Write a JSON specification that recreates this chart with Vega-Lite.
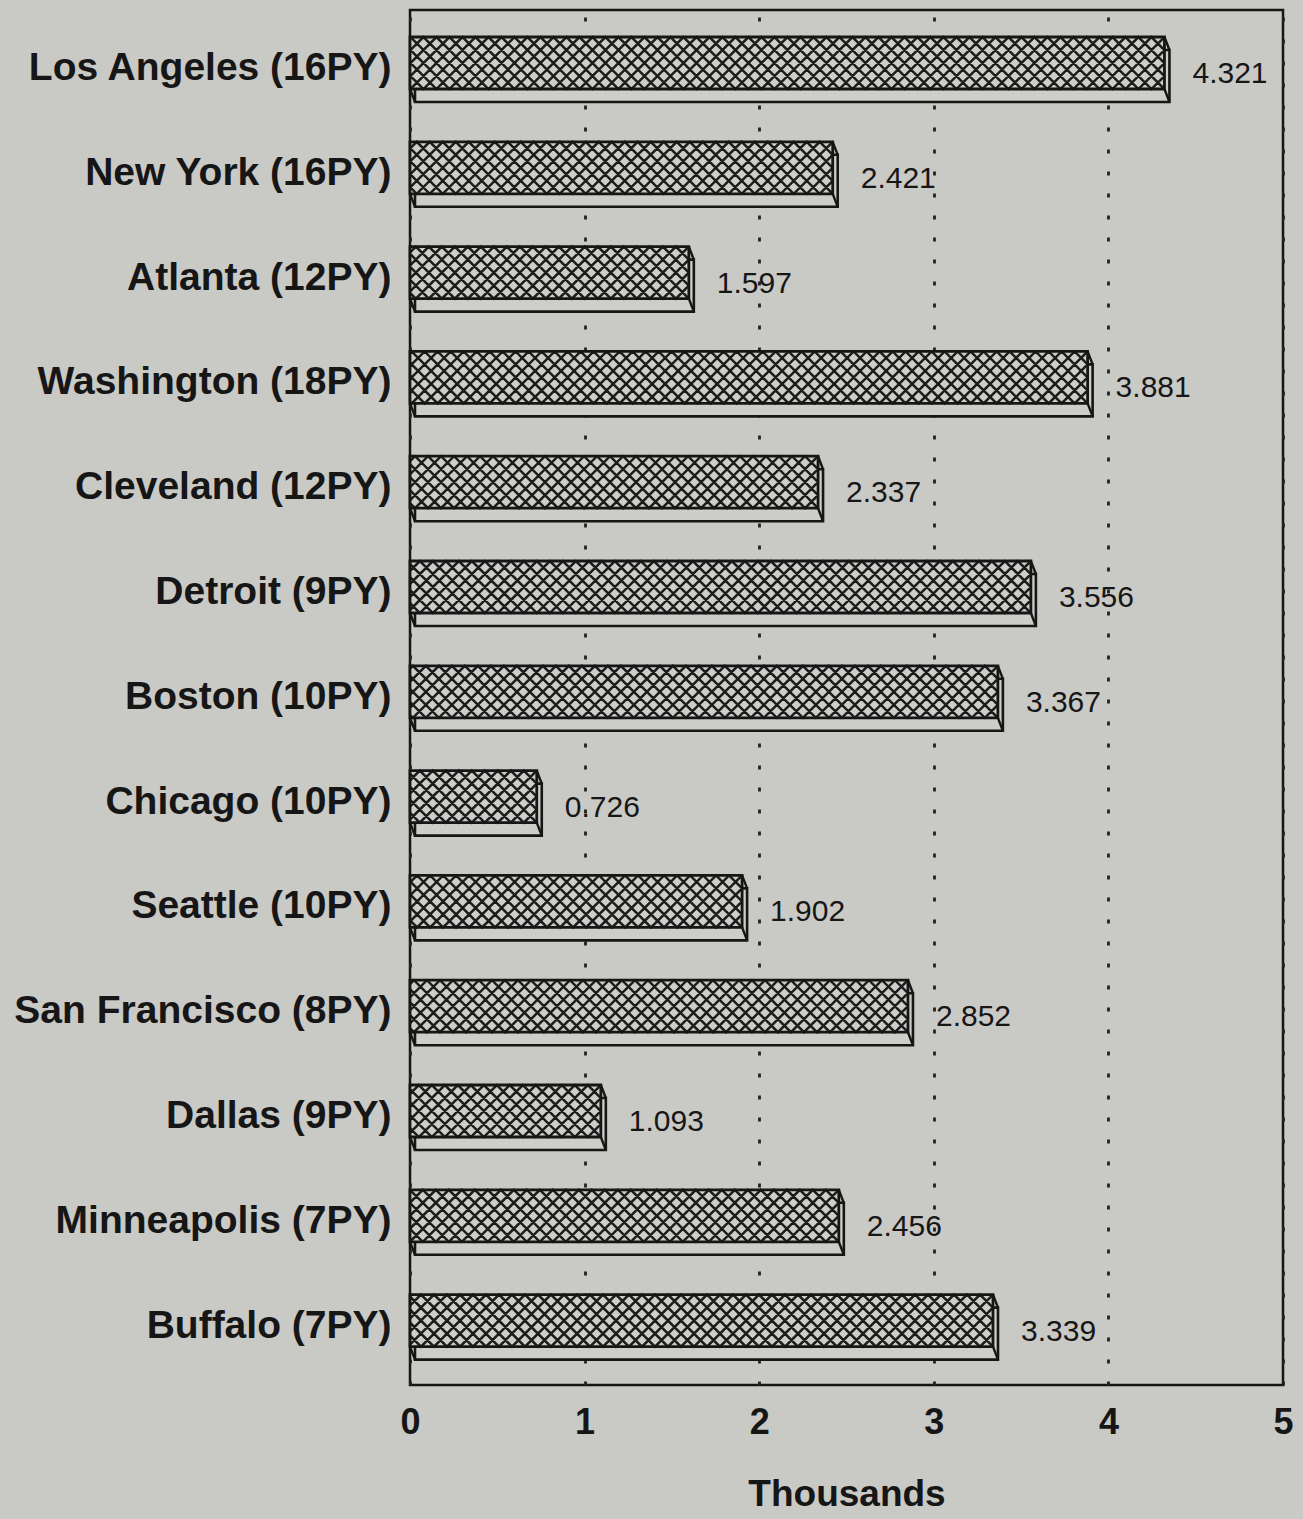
{
  "$schema": "https://vega.github.io/schema/vega-lite/v6.json",
  "width": 873,
  "height": 1375,
  "autosize": {"type": "none"},
  "padding": {"left": 410, "top": 10, "right": 20, "bottom": 134},
  "background": "#c9c9c5",
  "config": {
    "font": "Liberation Sans",
    "view": {"stroke": "#161616", "strokeWidth": 2.5}
  },
  "data": {
    "values": [
      {"city": "Los Angeles (16PY)", "value": 4.321},
      {"city": "New York (16PY)", "value": 2.421},
      {"city": "Atlanta (12PY)", "value": 1.597},
      {"city": "Washington (18PY)", "value": 3.881},
      {"city": "Cleveland (12PY)", "value": 2.337},
      {"city": "Detroit (9PY)", "value": 3.556},
      {"city": "Boston (10PY)", "value": 3.367},
      {"city": "Chicago (10PY)", "value": 0.726},
      {"city": "Seattle (10PY)", "value": 1.902},
      {"city": "San Francisco (8PY)", "value": 2.852},
      {"city": "Dallas (9PY)", "value": 1.093},
      {"city": "Minneapolis (7PY)", "value": 2.456},
      {"city": "Buffalo (7PY)", "value": 3.339}
    ]
  },
  "encoding": {
    "y": {
      "field": "city",
      "type": "nominal",
      "sort": null,
      "scale": {"paddingInner": 0.5038, "paddingOuter": 0.312, "align": 0.413},
      "axis": {
        "title": null,
        "domain": false,
        "ticks": false,
        "labelPadding": 19,
        "labelOffset": 5,
        "labelLimit": 600,
        "labelFontSize": 39,
        "labelFontWeight": "bold",
        "labelColor": "#161616"
      }
    },
    "x": {
      "field": "value",
      "type": "quantitative",
      "scale": {"domain": [0, 5], "nice": false, "zero": true},
      "axis": {
        "title": "Thousands",
        "values": [0, 1, 2, 3, 4, 5],
        "format": "d",
        "domain": false,
        "ticks": false,
        "grid": true,
        "gridColor": "#222222",
        "gridOpacity": 1,
        "gridWidth": 2.8,
        "gridDash": [4, 18],
        "labelFlush": false,
        "labelPadding": 20,
        "labelFontSize": 36,
        "labelFontWeight": "bold",
        "labelColor": "#161616",
        "titleFontSize": 37,
        "titleFontWeight": "bold",
        "titleColor": "#161616",
        "titlePadding": 36
      }
    }
  },
  "layer": [
    {
      "description": "rear face of each extruded bar, offset down and right",
      "mark": {"type": "bar", "fill": "#cdcdc9", "stroke": "#161616", "strokeWidth": 2.6, "xOffset": 5, "x2Offset": 5, "yOffset": 13}
    },
    {
      "description": "front face background",
      "mark": {"type": "bar", "fill": "#cdcdc9", "strokeWidth": 0}
    },
    {
      "description": "cross-hatching anchored at the bar end, clipped at the plot's left edge",
      "mark": {
        "type": "point",
        "clip": true,
        "size": 4,
        "filled": false,
        "opacity": 1,
        "stroke": "#1c1c1c",
        "strokeWidth": 2.5,
        "shape": "M0,26L-52,-26L-104,26L-156,-26L-208,26L-260,-26L-312,26L-364,-26L-416,26L-468,-26L-520,26L-572,-26L-624,26L-676,-26L-728,26L-780,-26L-832,26M0,-26L-52,26L-104,-26L-156,26L-208,-26L-260,26L-312,-26L-364,26L-416,-26L-468,26L-520,-26L-572,26L-624,-26L-676,26L-728,-26L-780,26L-832,-26M0,13L-13,26L-65,-26L-117,26L-169,-26L-221,26L-273,-26L-325,26L-377,-26L-429,26L-481,-26L-533,26L-585,-26L-637,26L-689,-26L-741,26L-793,-26L-845,26M0,-13L-13,-26L-65,26L-117,-26L-169,26L-221,-26L-273,26L-325,-26L-377,26L-429,-26L-481,26L-533,-26L-585,26L-637,-26L-689,26L-741,-26L-793,26L-845,-26M0,0L-26,26L-78,-26L-130,26L-182,-26L-234,26L-286,-26L-338,26L-390,-26L-442,26L-494,-26L-546,26L-598,-26L-650,26L-702,-26L-754,26L-806,-26L-858,26M0,0L-26,-26L-78,26L-130,-26L-182,26L-234,-26L-286,26L-338,-26L-390,26L-442,-26L-494,26L-546,-26L-598,26L-650,-26L-702,26L-754,-26L-806,26L-858,-26M0,-13L-39,26L-91,-26L-143,26L-195,-26L-247,26L-299,-26L-351,26L-403,-26L-455,26L-507,-26L-559,26L-611,-26L-663,26L-715,-26L-767,26L-819,-26L-871,26M0,13L-39,-26L-91,26L-143,-26L-195,26L-247,-26L-299,26L-351,-26L-403,26L-455,-26L-507,26L-559,-26L-611,26L-663,-26L-715,26L-767,-26L-819,26L-871,-26"
      }
    },
    {
      "description": "front face outline",
      "mark": {"type": "bar", "fill": "transparent", "stroke": "#161616", "strokeWidth": 2.8}
    },
    {
      "description": "slanted edges at the right end of each bar",
      "mark": {"type": "point", "size": 4, "filled": false, "opacity": 1, "stroke": "#161616", "strokeWidth": 2.4, "shape": "M0,-26L5,-13M0,26L5,39"}
    },
    {
      "description": "slanted edge at the left end of each bar",
      "mark": {"type": "point", "size": 4, "filled": false, "opacity": 1, "stroke": "#161616", "strokeWidth": 2.4, "shape": "M0,26L5,39"},
      "encoding": {"x": {"datum": 0}}
    },
    {
      "description": "value labels",
      "mark": {"type": "text", "align": "left", "baseline": "middle", "dx": 28, "dy": 11, "fontSize": 30, "color": "#161616"},
      "encoding": {"text": {"field": "value", "type": "quantitative", "format": ".3f"}}
    }
  ]
}
